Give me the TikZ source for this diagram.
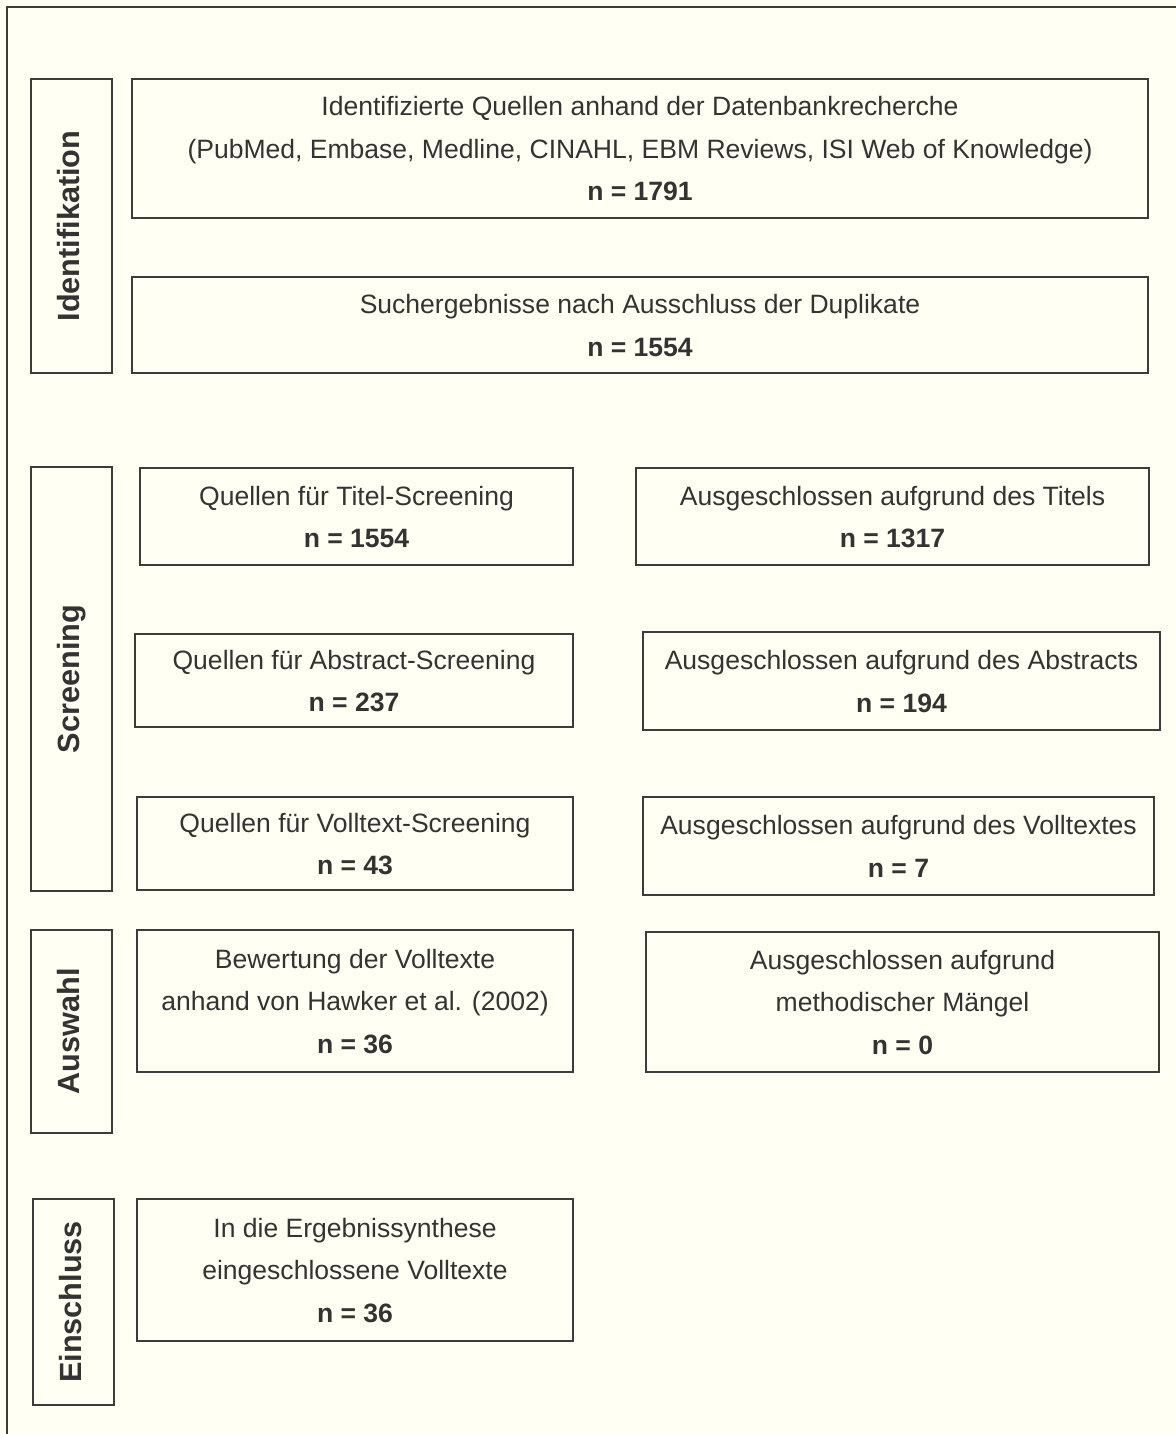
\documentclass[tikz,border=0pt]{standalone}
\usepackage{fontspec}
\setmainfont{Liberation Sans}
\usetikzlibrary{fit}
\definecolor{bg}{RGB}{255,255,243}
\definecolor{ln}{RGB}{60,60,60}
\definecolor{tx}{RGB}{51,51,51}
\begin{document}
\begin{tikzpicture}[x=0.75pt,y=-0.75pt,
  box/.style={draw=ln, line width=1.7pt, inner sep=0pt},
  txt/.style={anchor=north, inner sep=0pt, align=center, text=tx,
    font=\fontsize{19.9pt}{31.8pt}\selectfont},
  two/.style={yshift=23pt},
  three/.style={yshift=39pt},
  phase/.style={draw=ln, line width=1.7pt, inner sep=0pt},
  phasetext/.style={text=tx, font=\fontsize{23pt}{27pt}\selectfont\bfseries,
    rotate=90, inner sep=0pt, text height=16.5pt, text depth=4.5pt}
]
\fill[bg] (0,0) rectangle (1176,1434);
\useasboundingbox (0,0) rectangle (1176,1434);
\draw[ln, line width=1.7pt] (1180,7) -- (7,7) -- (7,1440);

% phase labels
\node[phase, fit={(31,79) (112,373)}, label={[phasetext]center:Identifikation}] (idl) {};
\node[phase, fit={(31,467) (112,891)}, label={[phasetext]center:Screening}] (scl) {};
\node[phase, fit={(31,930) (112,1133)}, label={[phasetext]center:Auswahl}] (aul) {};
\node[phase, fit={(33,1199) (114,1405)}, label={[phasetext]center:Einschluss}] (eil) {};

% boxes
\node[box, fit={(132,79) (1148,218)}] (b1) {};
\node[box, fit={(132,277) (1148,373)}] (b2) {};
\node[box, fit={(140,468) (573,565)}] (t1) {};
\node[box, fit={(636,468) (1149,565)}] (t2) {};
\node[box, fit={(135,634) (573,727)}] (a1) {};
\node[box, fit={(643,632) (1160,730)}] (a2) {};
\node[box, fit={(137,797) (573,890)}] (v1) {};
\node[box, fit={(643,797) (1154,895)}] (v2) {};
\node[box, fit={(137,930) (573,1072)}] (e1) {};
\node[box, fit={(646,932) (1159,1072)}] (e2) {};
\node[box, fit={(137,1199) (573,1341)}] (f1) {};

% texts
\node[txt, three] (b1t) at (b1.center) {Identifizierte Quellen anhand der Datenbankrecherche\\(PubMed, Embase, Medline, CINAHL, EBM Reviews, ISI Web of Knowledge)\\\textbf{n = 1791}};
\node[txt, two] (b2t) at (b2.center) {Suchergebnisse nach Ausschluss der Duplikate\\\textbf{n = 1554}};
\node[txt, two] (t1t) at (t1.center) {Quellen für Titel-Screening\\\textbf{n = 1554}};
\node[txt, two] (t2t) at (t2.center) {Ausgeschlossen aufgrund des Titels\\\textbf{n = 1317}};
\node[txt, two] (a1t) at (a1.center) {Quellen für Abstract-Screening\\\textbf{n = 237}};
\node[txt, two] (a2t) at (a2.center) {Ausgeschlossen aufgrund des Abstracts\\\textbf{n = 194}};
\node[txt, two] (v1t) at (v1.center) {Quellen für Volltext-Screening\\\textbf{n = 43}};
\node[txt, two] (v2t) at (v2.center) {Ausgeschlossen aufgrund des Volltextes\\\textbf{n = 7}};
\node[txt, three] (e1t) at (e1.center) {Bewertung der Volltexte\\anhand von Hawker et al. (2002)\\\textbf{n = 36}};
\node[txt, three] (e2t) at (e2.center) {Ausgeschlossen aufgrund\\methodischer Mängel\\\textbf{n = 0}};
\node[txt, three] (f1t) at (f1.center) {In die Ergebnissynthese\\eingeschlossene Volltexte\\\textbf{n = 36}};
\end{tikzpicture}
\end{document}
